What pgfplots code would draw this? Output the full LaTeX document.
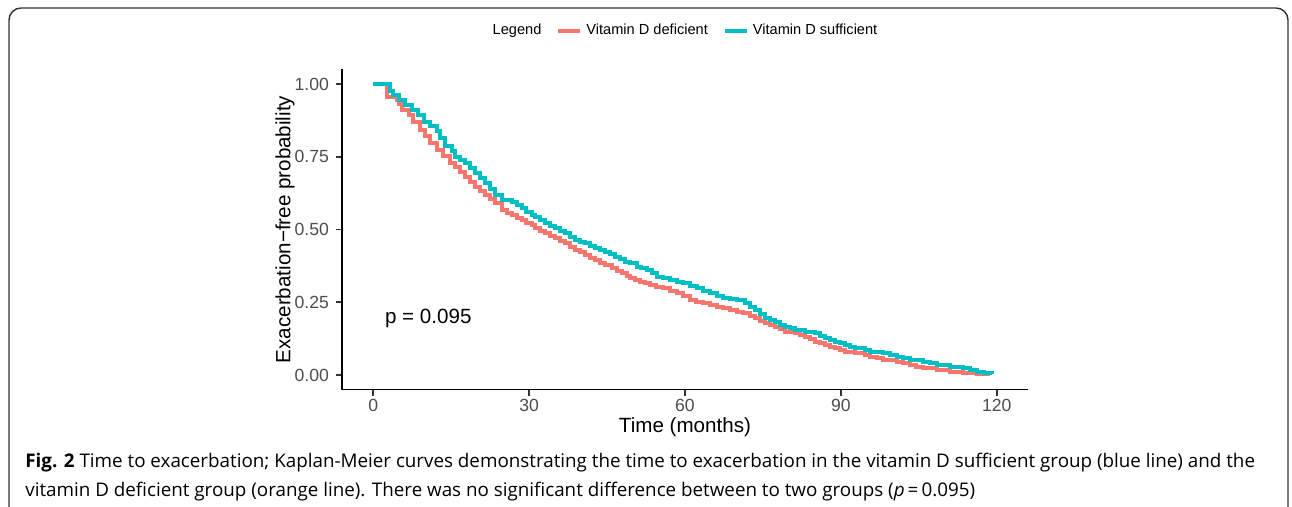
\documentclass[border=0pt]{standalone}
\usepackage{fontspec}
\setmainfont{Liberation Sans}
\newfontfamily\capfont{Open Sans}
\usepackage{pgfplots}
\pgfplotsset{compat=1.18}
\definecolor{kmred}{HTML}{F8766D}
\definecolor{kmteal}{HTML}{00BFC4}
\definecolor{grey30}{HTML}{4D4D4D}

\begin{document}
\begin{tikzpicture}[x=0.5pt,y=0.5pt]
\useasboundingbox (0,0) rectangle (1292,507);
\clip (0,0) rectangle (1292,507);
\draw[line width=0.7pt, color=black!80, rounded corners=6pt] (9,-20) -- (9,499) -- (1288,499) -- (1288,-20);
\begin{axis}[
  at={(171pt,58.725pt)}, anchor=south west,
  scale only axis, width=343pt, height=160.05pt,
  xmin=-6, xmax=126, ymin=-0.05, ymax=1.05,
  axis x line*=bottom, axis y line*=left,
  axis line style={-, line width=0.8pt, black},
  tick align=outside, major tick length=3pt,
  tick style={line width=0.8pt, black!80},
  xtick={0,30,60,90,120}, ytick={0,0.25,0.5,0.75,1},
  /pgf/number format/assume math mode=true,
  yticklabel style={/pgf/number format/.cd, fixed, fixed zerofill, precision=2},
  xticklabel style={yshift=1.8pt},
  ticklabel style={font=\fontsize{8.8}{10}\selectfont, text=grey30},
  xlabel={Time (months)},
  ylabel={Exacerbation\textminus free probability},
  xlabel style={at={(axis description cs:0.5,-0.1175)}, anchor=center, font=\fontsize{10.3}{12}\selectfont},
  ylabel style={at={(axis description cs:-0.0831,0.5)}, anchor=center, rotate=0, font=\fontsize{10.3}{12}\selectfont},
  legend style={at={(0.5,1.1201)}, anchor=center, draw=none, fill=none,
    font=\fontsize{7.3}{9}\selectfont,
    /tikz/every even column/.append style={column sep=5.5pt}},
  legend columns=3,
  legend image code/.code={\draw[#1, line width=2pt] (0pt,0pt) -- (11pt,0pt);},
  clip=false,
]
\addlegendimage{empty legend}
\addlegendentry{Legend}
\addplot[const plot, mark=none, color=kmred, line width=2pt, line join=miter] coordinates {
(0,1.000) (2.6,0.957) (4.6,0.946) (5.0,0.930) (5.5,0.912) (6.8,0.894) (7.75,0.871)
(9.0,0.843) (10.0,0.820) (11.0,0.797) (12.2,0.774) (13.5,0.751) (14.8,0.729)
(15.8,0.716) (16.7,0.699) (17.7,0.681) (18.7,0.664) (19.6,0.647) (20.5,0.633)
(21.5,0.619) (22.5,0.604) (23.5,0.590) (24.7,0.567) (25.7,0.558) (26.7,0.550)
(27.6,0.541) (28.6,0.533) (29.5,0.524) (30.5,0.515) (31.2,0.504) (32.1,0.495) (33.1,0.487)
(34.0,0.478) (35.0,0.470) (36.0,0.461) (36.9,0.452) (37.9,0.441) (38.8,0.430) (39.8,0.421)
(40.8,0.412) (41.7,0.403) (42.7,0.395) (43.6,0.386) (44.6,0.378) (45.9,0.367)
(46.9,0.358) (47.9,0.349) (48.8,0.340) (49.4,0.332) (50.3,0.326) (51.3,0.321) (52.3,0.315)
(53.3,0.309) (54.5,0.303) (55.8,0.298) (57.1,0.290) (58.4,0.281) (59.7,0.270)
(61.0,0.258) (62.2,0.252) (63.5,0.246) (64.8,0.240) (66.1,0.235) (67.4,0.229) (68.7,0.223)
(70.0,0.218) (71.2,0.212) (72.5,0.203) (73.5,0.195) (74.4,0.186) (75.4,0.178) (76.3,0.172)
(77.3,0.166) (78.3,0.158) (79.2,0.149) (81.2,0.143) (82.1,0.137) (83.1,0.132) (84.0,0.124)
(85.0,0.115) (86.0,0.109) (86.9,0.103) (87.9,0.097) (88.8,0.092) (89.8,0.086) (90.8,0.080)
(92.7,0.074) (94.6,0.069) (95.6,0.063) (96.9,0.057) (98.1,0.052) (100.7,0.046) (102.0,0.040)
(103.3,0.034) (104.5,0.029) (105.8,0.023) (108.4,0.017) (111.0,0.011) (113.5,0.006)
(116.1,0.002) (118.6,0.000)
};
\addlegendentry{Vitamin D deficient}
\addplot[const plot, mark=none, color=kmteal, line width=2pt, line join=miter] coordinates {
(0,1.000) (3.3,0.975) (3.9,0.963) (4.9,0.946) (6.2,0.929) (7.4,0.912) (8.7,0.894)
(9.7,0.871) (11.0,0.854) (12.2,0.837) (12.9,0.814) (13.8,0.788) (15.1,0.769)
(15.8,0.750) (16.7,0.739) (17.7,0.727) (18.7,0.710) (19.6,0.693) (20.5,0.676)
(21.5,0.659) (22.5,0.640) (23.5,0.619) (24.7,0.601) (26.7,0.596) (27.6,0.585)
(28.6,0.573) (29.5,0.561) (30.5,0.550) (31.2,0.544) (32.1,0.532) (33.1,0.521)
(34.0,0.512) (35.0,0.504) (36.0,0.495) (36.9,0.487) (37.9,0.475) (38.8,0.464) (39.8,0.458)
(40.8,0.452) (41.7,0.443) (42.7,0.435) (43.6,0.430) (44.6,0.424) (45.5,0.415) (46.5,0.407)
(47.5,0.398) (48.5,0.389) (49.4,0.384) (50.7,0.372) (51.6,0.366) (52.6,0.361)
(53.6,0.350) (54.6,0.338) (55.8,0.332) (57.1,0.326) (58.4,0.321) (59.7,0.315) (61.0,0.306)
(62.3,0.298) (63.5,0.290) (64.8,0.281) (66.1,0.272) (67.4,0.263) (68.7,0.261) (70.0,0.258)
(71.5,0.246) (72.5,0.235) (73.5,0.223) (74.4,0.210) (75.4,0.195) (76.3,0.189)
(77.3,0.183) (78.3,0.172) (79.2,0.166) (80.2,0.160) (81.2,0.155) (83.1,0.149) (85.0,0.143)
(86.0,0.134) (86.9,0.126) (87.9,0.120) (88.8,0.115) (89.8,0.109) (90.8,0.103) (91.7,0.097) (92.7,0.092)
(94.6,0.086) (95.6,0.080) (98.1,0.074) (99.4,0.069) (100.7,0.063) (102.0,0.057) (103.3,0.052)
(105.8,0.046) (107.1,0.040) (108.4,0.034) (111.0,0.029) (113.5,0.023) (114.8,0.017)
(116.1,0.011) (117.5,0.008) (119.0,0.006)
};
\addlegendentry{Vitamin D sufficient}
\node[anchor=center, font=\fontsize{10.3}{12}\selectfont] at (axis cs:10.6,0.196) {p = 0.095};
\end{axis}
\node[anchor=base west, inner sep=0pt, font=\capfont\fontsize{9.4}{11}\selectfont] at (25,39)
  {\textbf{Fig. 2} Time to exacerbation; Kaplan-Meier curves demonstrating the time to exacerbation in the vitamin D sufficient group (blue line) and the};
\node[anchor=base west, inner sep=0pt, font=\capfont\fontsize{9.4}{11}\selectfont] at (25,10)
  {vitamin D deficient group (orange line). There was no significant difference between to two groups (\textit{p}\,=\,0.095)};
\end{tikzpicture}
\end{document}
